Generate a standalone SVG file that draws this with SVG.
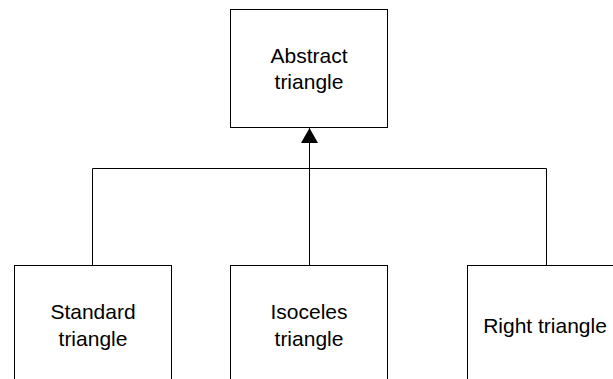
<svg xmlns="http://www.w3.org/2000/svg" width="613" height="379" viewBox="0 0 613 379">
<style>
.box{fill:#fff;stroke:#000;stroke-width:1}
.lbl{font-family:"Liberation Sans",Arial,sans-serif;font-size:21px;fill:#000;text-anchor:middle}
.conn{fill:none;stroke:#000;stroke-width:1}
</style>
<defs>
<marker id="tri" markerUnits="userSpaceOnUse" markerWidth="20" markerHeight="20" refX="15" refY="9" orient="auto" overflow="visible">
<path d="M0,0.5 L15,9 L0,17.5 Z" fill="#000"/>
</marker>
</defs>
<rect width="613" height="379" fill="#fff"/>
<g id="connectors">
<path class="conn" d="M309.5,265.5 V128" marker-end="url(#tri)"/>
<path class="conn" d="M92.5,265.5 V168.5 H546.5 V265.5"/>
</g>
<g id="abstract">
<rect class="box" x="230.5" y="9.5" width="157" height="118"/>
<text class="lbl" x="309" y="63">Abstract</text>
<text class="lbl" x="309" y="89">triangle</text>
</g>
<g id="standard">
<rect class="box" x="14.5" y="265.5" width="157" height="130"/>
<text class="lbl" x="93" y="319">Standard</text>
<text class="lbl" x="93" y="345.5">triangle</text>
</g>
<g id="isoceles">
<rect class="box" x="230.5" y="265.5" width="157" height="130"/>
<text class="lbl" x="309" y="319">Isoceles</text>
<text class="lbl" x="309" y="345.5">triangle</text>
</g>
<g id="right">
<rect class="box" x="467.5" y="265.5" width="157" height="130"/>
<text class="lbl" x="545" y="332.5">Right triangle</text>
</g>
</svg>
